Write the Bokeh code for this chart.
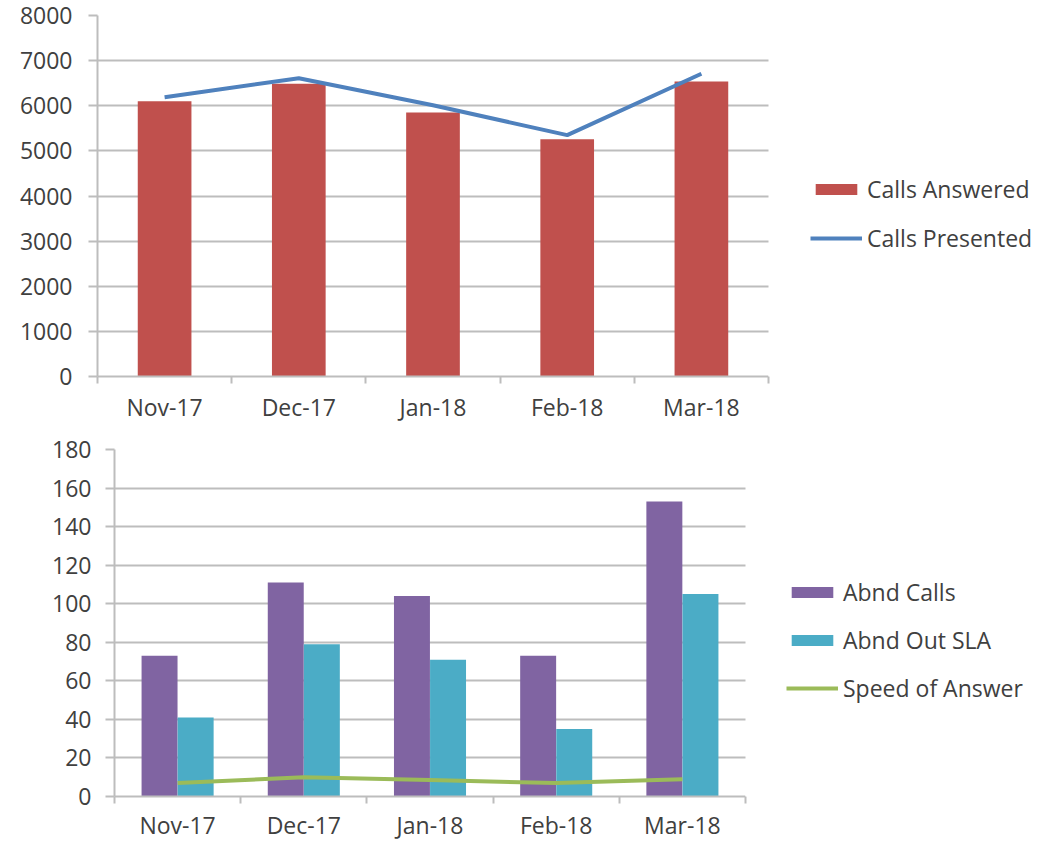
from bokeh.plotting import figure
from bokeh.models import FixedTicker, Range1d, Legend, LegendItem, BoxAnnotation
from bokeh.embed import file_html
from bokeh.resources import INLINE

months = ["Nov-17", "Dec-17", "Jan-18", "Feb-18", "Mar-18"]
calls_answered = [6100, 6490, 5850, 5260, 6540]
calls_presented = [6190, 6610, 6010, 5350, 6710]
abnd_calls = [73, 111, 104, 73, 153]
abnd_out_sla = [41, 79, 71, 35, 105]
speed_of_answer = [7, 10, 8.5, 7, 9]
top_ticks = [0, 1000, 2000, 3000, 4000, 5000, 6000, 7000, 8000]
bottom_ticks = [0, 20, 40, 60, 80, 100, 120, 140, 160, 180]

FONT = "Open Sans"
FS = "23px"
TXT = "#404040"
GRID = "#BDBDBD"
W = 1048

n = len(months)
xs = [i + 0.5 for i in range(n)]
labels = {x: m for x, m in zip(xs, months)}


def make_fig(height, left, plot_px, top, bottom, ymax):
    # frame spans to the right edge; the category area occupies plot_px pixels,
    # the rest on the right is kept blank for the legend
    x_end = n * (W - left) / plot_px
    p = figure(width=W, height=height, x_range=Range1d(0, x_end), y_range=Range1d(0, ymax),
               output_backend="svg", toolbar_location=None,
               min_border_left=left, min_border_right=0, min_border_top=top, min_border_bottom=bottom)
    return p


def style(p, yticks, ystand, xstand):
    p.xaxis.ticker = FixedTicker(ticks=xs, minor_ticks=list(range(n + 1)))
    p.xaxis.bounds = (0, n)
    p.xaxis.major_label_overrides = labels
    p.xaxis.major_tick_out = 0
    p.xaxis.major_tick_in = 0
    p.xaxis.minor_tick_out = 7
    p.xaxis.minor_tick_in = 0
    p.xaxis.minor_tick_line_color = GRID
    p.xaxis.minor_tick_line_width = 2
    p.xaxis.major_label_standoff = xstand
    p.yaxis.ticker = FixedTicker(ticks=yticks)
    p.yaxis.major_tick_out = 9
    p.yaxis.major_tick_in = 0
    p.yaxis.minor_tick_out = 0
    p.yaxis.minor_tick_in = 0
    p.yaxis.major_tick_line_color = GRID
    p.yaxis.major_tick_line_width = 2
    p.yaxis.major_label_standoff = ystand
    for ax in (p.xaxis, p.yaxis):
        ax.axis_line_color = GRID
        ax.axis_line_width = 2
        ax.major_label_text_font = FONT
        ax.major_label_text_font_size = FS
        ax.major_label_text_color = TXT
    p.xgrid.visible = False
    p.ygrid.grid_line_color = GRID
    p.ygrid.grid_line_width = 2
    p.outline_line_color = None
    # blank out the legend area to the right of the category area
    p.add_layout(BoxAnnotation(left=n, fill_color="white", fill_alpha=1.0, line_color=None))


def make_legend(items, loc, spacing):
    lg = Legend(items=items, location=loc)
    lg.border_line_color = None
    lg.background_fill_alpha = 0
    lg.padding = 0
    lg.margin = 0
    lg.spacing = spacing
    lg.glyph_width = 52
    lg.glyph_height = 14
    lg.label_height = 34
    lg.label_standoff = 5
    lg.label_text_font = FONT
    lg.label_text_font_size = FS
    lg.label_text_color = TXT
    return lg


# ---- top chart ----
p1 = make_fig(425, 97, 671, 15, 49, 8000)
style(p1, top_ticks, 16, 7)
b1 = p1.vbar(x=xs, top=calls_answered, width=0.4, fill_color="#C0504D", line_color=None)
l1 = p1.line(x=xs, y=calls_presented, line_color="#4F81BD", line_width=4)
p1.add_layout(make_legend([LegendItem(label="Calls Answered", renderers=[b1]),
                           LegendItem(label="Calls Presented", renderers=[l1])], (713, 121), 15))

# ---- bottom chart ----
p2 = make_fig(418, 114, 631, 24, 47, 180)
style(p2, bottom_ticks, 14, 5)
off = 0.143
b2 = p2.vbar(x=[x - off for x in xs], top=abnd_calls, width=0.285, fill_color="#8064A2", line_color=None)
b3 = p2.vbar(x=[x + off for x in xs], top=abnd_out_sla, width=0.285, fill_color="#4BACC6", line_color=None)
l2 = p2.line(x=xs, y=speed_of_answer, line_color="#9BBB59", line_width=4)
p2.add_layout(make_legend([LegendItem(label="Abnd Calls", renderers=[b2]),
                           LegendItem(label="Abnd Out SLA", renderers=[b3]),
                           LegendItem(label="Speed of Answer", renderers=[l2])], (672, 91), 14))

open("out.html", "w").write(file_html([p1, p2], INLINE))
